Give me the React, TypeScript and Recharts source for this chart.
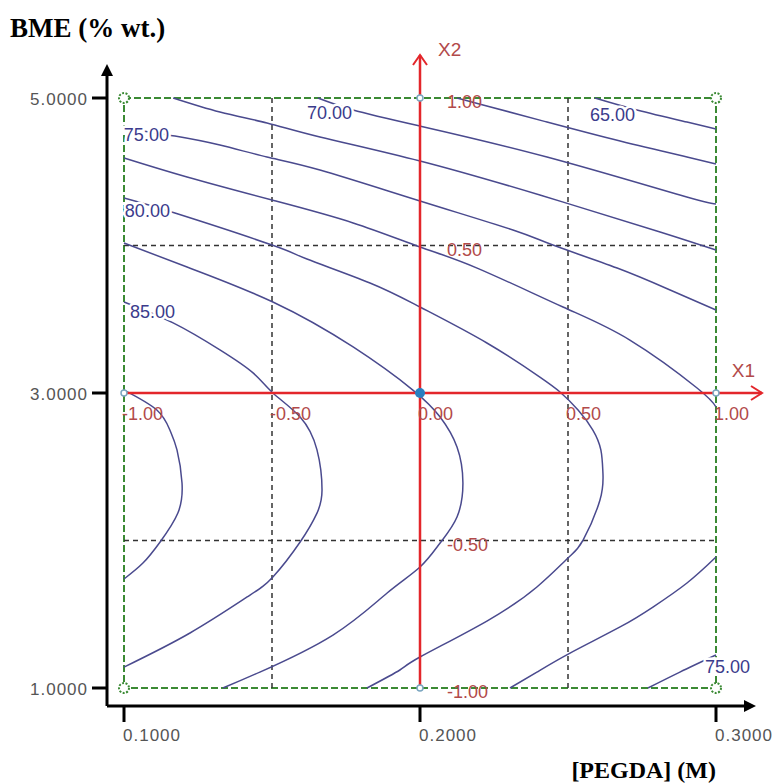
import {
  ComposedChart,
  Line,
  Scatter,
  XAxis,
  YAxis,
  ReferenceLine,
  ReferenceArea,
} from 'recharts';

// axes: [PEGDA] (M) across, BME (% wt.) up
const X_TICKS = [0.1, 0.2, 0.3];
const Y_TICKS = [1, 3, 5];
const X_GRID = [0.15, 0.25];
const Y_GRID = [2, 4];

// coded levels along the red X1 / X2 axes
const X1_LEVELS = [0.1, 0.15, 0.2, 0.25, 0.3];
const X1_CODES = ['-1.00', '-0.50', '0.00', '0.50', '1.00'];
const X2_LEVELS = [5, 4, 2, 1];
const X2_CODES = ['1.00', '0.50', '-0.50', '-1.00'];

// contour lines, [PEGDA, BME] pairs
const C65 = [[0.2591, 5.0], [0.2733, 4.919], [0.2902, 4.837], [0.3, 4.79]];
const C67 = [[0.2125, 5.0], [0.2213, 4.953], [0.2429, 4.837], [0.2676, 4.708], [0.2902, 4.6], [0.3, 4.553]];
const C70 = [[0.1655, 5.0], [0.1774, 4.919], [0.2, 4.81], [0.2429, 4.6], [0.2878, 4.342], [0.3, 4.281]];
const C72 = [[0.1166, 5.0], [0.1324, 4.905], [0.1483, 4.831], [0.1662, 4.736], [0.2, 4.573], [0.2405, 4.342], [0.2811, 4.092], [0.3, 3.969]];
const C75A = [[0.1, 4.797], [0.1172, 4.742], [0.1324, 4.681], [0.1483, 4.6], [0.1662, 4.512], [0.2, 4.302], [0.2314, 4.105], [0.2449, 4.003], [0.2666, 3.847], [0.2845, 3.698], [0.3, 3.563]];
const C75B = [[0.3, 1.224], [0.2878, 1.108], [0.277, 1.0]];
const C77A = [[0.1, 4.593], [0.1213, 4.464], [0.15, 4.308], [0.1774, 4.153], [0.2, 3.99], [0.2193, 3.847], [0.2483, 3.583], [0.2709, 3.359], [0.2936, 3.034], [0.3, 2.905]];
const C77B = [[0.3, 1.888], [0.2902, 1.712], [0.2787, 1.549], [0.2676, 1.414], [0.2507, 1.237], [0.2395, 1.108], [0.2304, 1.0]];
const C80 = [[0.1, 4.322], [0.1172, 4.22], [0.15, 4.003], [0.1618, 3.908], [0.1831, 3.746], [0.2, 3.583], [0.2226, 3.339], [0.2405, 3.108], [0.2473, 3.007], [0.2534, 2.885], [0.2584, 2.749], [0.2611, 2.614], [0.2618, 2.458], [0.2608, 2.275], [0.2551, 2.003], [0.25, 1.881], [0.2395, 1.685], [0.2226, 1.454], [0.2, 1.21], [0.1932, 1.122], [0.1821, 1.0]];
const C82 = [[0.1, 4.017], [0.1213, 3.854], [0.1503, 3.617], [0.1774, 3.312], [0.1976, 3.02], [0.2068, 2.837], [0.2125, 2.634], [0.2145, 2.39], [0.2125, 2.159], [0.2068, 1.983], [0.2, 1.82], [0.1889, 1.644], [0.1706, 1.359], [0.1459, 1.108], [0.1334, 1.0]];
const C85 = [[0.1, 3.617], [0.1166, 3.475], [0.1324, 3.292], [0.1436, 3.136], [0.1503, 3.0], [0.1595, 2.837], [0.1652, 2.614], [0.1669, 2.342], [0.1652, 2.186], [0.1595, 1.99], [0.1503, 1.753], [0.1416, 1.617], [0.1223, 1.373], [0.1, 1.142]];
const C87 = [[0.1, 3.02], [0.1111, 2.885], [0.1155, 2.749], [0.1179, 2.614], [0.1196, 2.39], [0.1182, 2.186], [0.1122, 1.99], [0.1064, 1.847], [0.1, 1.739]];

const DESIGN_CORNERS = [[0.1, 1], [0.1, 5], [0.3, 1], [0.3, 5]];
const AXIS_ENDS = [[0.2, 5], [0.2, 1], [0.1, 3], [0.3, 3]];
const CENTER_POINT = [[0.2, 3]];

const toPts = (arr: number[][]) => arr.map(([x, y]) => ({ x, y }));

const CONTOURS = [
  { key: 'c65', level: '65.00', pts: C65 },
  { key: 'c67', level: '67.50', pts: C67 },
  { key: 'c70', level: '70.00', pts: C70 },
  { key: 'c72', level: '72.50', pts: C72 },
  { key: 'c75a', level: '75.00', pts: C75A },
  { key: 'c75b', level: '75.00', pts: C75B },
  { key: 'c77a', level: '77.50', pts: C77A },
  { key: 'c77b', level: '77.50', pts: C77B },
  { key: 'c80', level: '80.00', pts: C80 },
  { key: 'c82', level: '82.50', pts: C82 },
  { key: 'c85', level: '85.00', pts: C85 },
  { key: 'c87', level: '87.50', pts: C87 },
];

// which point of a contour carries its level label
const LABEL_STYLE: Record<string, { at: number; anchor: 'start' | 'end'; dx: number; dy: number }> = {
  c65: { at: 1, anchor: 'end', dx: -2, dy: 5 },
  c70: { at: 1, anchor: 'end', dx: -1, dy: 3 },
  c75a: { at: 1, anchor: 'end', dx: -6, dy: -1 },
  c75b: { at: 0, anchor: 'start', dx: -11, dy: 12 },
  c80: { at: 1, anchor: 'end', dx: -5, dy: -2 },
  c85: { at: 1, anchor: 'end', dx: 2, dy: -11 },
};

const LEVEL_LABELS = CONTOURS.filter((c) => LABEL_STYLE[c.key]).map((c) => {
  const [x, y] = c.pts[LABEL_STYLE[c.key].at];
  return { x, y, text: c.level, key: c.key };
});

const X1_LABELS = X1_LEVELS.map((x, i) => ({ x, y: 3, text: X1_CODES[i] }));
const X2_LABELS = X2_LEVELS.map((y, i) => ({ x: 0.2, y, text: X2_CODES[i] }));

const RED = '#e3262b';
const RED_TEXT = '#b24a4a';
const NAVY = '#4a4a8e';
const NAVY_TEXT = '#3b3b8c';
const GREEN = '#3b8a34';
const SANS = '"Liberation Sans", Arial, sans-serif';
const SERIF = '"Liberation Serif", "Times New Roman", serif';

function YTick({ x, y, payload }: any) {
  return (
    <text x={x} y={y + 1} textAnchor="end" dominantBaseline="central" fill="#555" fontSize={17} letterSpacing={1} fontFamily={SANS}>
      {Number(payload.value).toFixed(4)}
    </text>
  );
}

function XTick({ x, y, payload }: any) {
  return (
    <text x={x - 1} y={y + 15} textAnchor="start" fill="#555" fontSize={17} letterSpacing={1} fontFamily={SANS}>
      {Number(payload.value).toFixed(4)}
    </text>
  );
}

function X2Axis({ x1, y1, x2, y2 }: any) {
  const tip = y2 - 43;
  return (
    <g>
      <line x1={x1} y1={y1} x2={x2} y2={tip} stroke={RED} strokeWidth={2.5} />
      <polyline points={`${x2 - 7},${tip + 10} ${x2},${tip} ${x2 + 7},${tip + 10}`} fill="none" stroke={RED} strokeWidth={2} />
      <text x={x2 + 18} y={tip - 6} dominantBaseline="central" fill={RED_TEXT} fontSize={19} fontFamily={SANS}>X2</text>
    </g>
  );
}

function X1Axis({ x1, y1, x2, y2 }: any) {
  const tip = x2 + 46;
  return (
    <g>
      <line x1={x1} y1={y1} x2={tip} y2={y2} stroke={RED} strokeWidth={2.5} />
      <polyline points={`${tip - 11},${y2 - 7} ${tip},${y2} ${tip - 11},${y2 + 7}`} fill="none" stroke={RED} strokeWidth={2} />
      <text x={tip - 7} y={y2 - 23} textAnchor="end" dominantBaseline="central" fill={RED_TEXT} fontSize={19} fontFamily={SANS}>X1</text>
    </g>
  );
}

function LevelLabel({ cx, cy, payload }: any) {
  const s = LABEL_STYLE[payload.key];
  return (
    <text x={cx + s.dx} y={cy + s.dy} textAnchor={s.anchor} dominantBaseline="central" fill={NAVY_TEXT} fontSize={18} fontFamily={SANS}
      stroke="#fff" strokeWidth={5} paintOrder="stroke">
      {payload.text}
    </text>
  );
}

function X1Label({ cx, cy, payload }: any) {
  return (
    <text x={cx - 2} y={cy + 21} dominantBaseline="central" fill={RED_TEXT} fontSize={18} fontFamily={SANS}>
      {payload.text}
    </text>
  );
}

function X2Label({ cx, cy, payload }: any) {
  return (
    <text x={cx + 27} y={cy + 4} dominantBaseline="central" fill={RED_TEXT} fontSize={18} fontFamily={SANS}>
      {payload.text}
    </text>
  );
}

function Corner({ cx, cy }: any) {
  return <circle cx={cx} cy={cy} r={5} fill="#fff" stroke={GREEN} strokeWidth={2} strokeDasharray="2 1.5" />;
}

function AxisEnd({ cx, cy }: any) {
  return <circle cx={cx} cy={cy} r={3} fill="#fff" stroke="#7aa6c0" strokeWidth={1.5} />;
}

function CenterMark({ cx, cy }: any) {
  return <circle cx={cx} cy={cy} r={5} fill="#2a7fc0" />;
}

export default function App() {
  return (
    <div style={{ position: 'absolute', left: 0, top: 0, width: 772, height: 784, background: '#fff' }}>
      <ComposedChart width={772} height={784} margin={{ top: 70, right: 22, bottom: 0, left: 0 }}>
        <defs>
          <marker id="axisHead" viewBox="0 0 12 12" refX="6" refY="6" markerWidth="12" markerHeight="12"
            markerUnits="userSpaceOnUse" orient="auto-start-reverse">
            <path d="M0,0 L12,6 L0,12 z" fill="#000" />
          </marker>
        </defs>
        <XAxis
          type="number"
          dataKey="x"
          domain={[0.1, 0.3]}
          ticks={X_TICKS}
          padding={{ left: 17, right: 34 }}
          height={78}
          tickSize={16}
          tickMargin={4}
          axisLine={{ stroke: '#000', strokeWidth: 3, markerEnd: 'url(#axisHead)' }}
          tickLine={{ stroke: '#000', strokeWidth: 3 }}
          tick={<XTick />}
          label={(p: any) => (
            <text x={p.viewBox.x + p.viewBox.width - 34} y={p.viewBox.y + 72} textAnchor="end" fontSize={24} fontWeight="bold" fontFamily={SERIF} fill="#000">
              [PEGDA] (M)
            </text>
          )}
        />
        <YAxis
          type="number"
          dataKey="y"
          domain={[1, 5]}
          ticks={Y_TICKS}
          padding={{ top: 28, bottom: 18 }}
          width={107}
          tickSize={15}
          tickMargin={4}
          axisLine={{ stroke: '#000', strokeWidth: 3, markerStart: 'url(#axisHead)' }}
          tickLine={{ stroke: '#000', strokeWidth: 3 }}
          tick={<YTick />}
          label={(p: any) => (
            <text x={p.viewBox.x + 10} y={p.viewBox.y - 33} fontSize={27} fontWeight="bold" fontFamily={SERIF} fill="#000">
              BME (% wt.)
            </text>
          )}
        />

        <ReferenceArea x1={0.1} x2={0.3} y1={1} y2={5} fill="none" fillOpacity={0} stroke={GREEN} strokeWidth={2} strokeDasharray="7 3" />
        {X_GRID.map((x) => (
          <ReferenceLine key={`gx${x}`} segment={[{ x, y: 1 }, { x, y: 5 }]} stroke="#333" strokeWidth={1.5} strokeDasharray="5 4" />
        ))}
        {Y_GRID.map((y) => (
          <ReferenceLine key={`gy${y}`} segment={[{ x: 0.1, y }, { x: 0.3, y }]} stroke="#333" strokeWidth={1.5} strokeDasharray="5 4" />
        ))}

        {CONTOURS.map((c) => (
          <Line
            key={c.key}
            data={toPts(c.pts)}
            dataKey="y"
            type="natural"
            stroke={NAVY}
            strokeWidth={1.5}
            dot={false}
            activeDot={false}
            isAnimationActive={false}
          />
        ))}

        <ReferenceLine segment={[{ x: 0.2, y: 1 }, { x: 0.2, y: 5 }]} shape={<X2Axis />} />
        <ReferenceLine segment={[{ x: 0.1, y: 3 }, { x: 0.3, y: 3 }]} shape={<X1Axis />} />

        <Scatter data={toPts(DESIGN_CORNERS)} shape={<Corner />} isAnimationActive={false} />
        <Scatter data={toPts(AXIS_ENDS)} shape={<AxisEnd />} isAnimationActive={false} />
        <Scatter data={toPts(CENTER_POINT)} shape={<CenterMark />} isAnimationActive={false} />
        <Scatter data={X1_LABELS} shape={<X1Label />} isAnimationActive={false} />
        <Scatter data={X2_LABELS} shape={<X2Label />} isAnimationActive={false} />
        <Scatter data={LEVEL_LABELS} shape={<LevelLabel />} isAnimationActive={false} />
      </ComposedChart>
    </div>
  );
}
